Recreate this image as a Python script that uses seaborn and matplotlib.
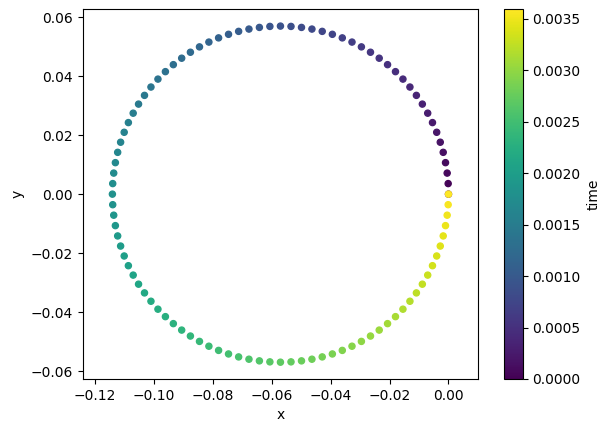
import numpy as np
import pandas as pd
import matplotlib
matplotlib.use("Agg")
import matplotlib.pyplot as plt
import seaborn as sns
from matplotlib.cm import ScalarMappable
from matplotlib.colors import Normalize

x = [0.0, -0.00011, -0.00045, -0.00101, -0.00179, -0.00279, -0.00400, -0.00543, -0.00705, -0.00887,
     -0.01089, -0.01308, -0.01545, -0.01798, -0.02067, -0.02350, -0.02646, -0.02954, -0.03273, -0.03602,
     -0.03939, -0.04283, -0.04632, -0.04986, -0.05342, -0.05700, -0.06058, -0.06414, -0.06768, -0.07118,
     -0.07461, -0.07798, -0.08127, -0.08446, -0.08754, -0.09050, -0.09333, -0.09602, -0.09855, -0.10092,
     -0.10311, -0.10513, -0.10695, -0.10858, -0.11000, -0.11121, -0.11221, -0.11299, -0.11355, -0.11389,
     -0.11400,
     -0.11389, -0.11355, -0.11299, -0.11221, -0.11121, -0.11000, -0.10858, -0.10695, -0.10513, -0.10311,
     -0.10092, -0.09855, -0.09602, -0.09333, -0.09050, -0.08754, -0.08446, -0.08127, -0.07798, -0.07461,
     -0.07118, -0.06768, -0.06414, -0.06058, -0.05700, -0.05342, -0.04986, -0.04632, -0.04283, -0.03939,
     -0.03602, -0.03273, -0.02954, -0.02646, -0.02350, -0.02067, -0.01798, -0.01545, -0.01308, -0.01089,
     -0.00887, -0.00705, -0.00543, -0.00400, -0.00279, -0.00179, -0.00101, -0.00045, -0.00011, 0.0]

y = [0.0, 0.00358, 0.00714, 0.01068, 0.01418, 0.01761, 0.02098, 0.02427, 0.02746, 0.03054,
     0.03350, 0.03633, 0.03902, 0.04155, 0.04392, 0.04611, 0.04813, 0.04995, 0.05158, 0.05300,
     0.05421, 0.05521, 0.05599, 0.05655, 0.05689, 0.05700,
     0.05689, 0.05655, 0.05599, 0.05521, 0.05421, 0.05300, 0.05158, 0.04995, 0.04813, 0.04611,
     0.04392, 0.04155, 0.03902, 0.03633, 0.03350, 0.03054, 0.02746, 0.02427, 0.02098, 0.01761,
     0.01418, 0.01068, 0.00714, 0.00358, 0.0,
     -0.00358, -0.00714, -0.01068, -0.01418, -0.01761, -0.02098, -0.02427, -0.02746, -0.03054,
     -0.03350, -0.03633, -0.03902, -0.04155, -0.04392, -0.04611, -0.04813, -0.04995, -0.05158, -0.05300,
     -0.05421, -0.05521, -0.05599, -0.05655, -0.05689, -0.05700,
     -0.05689, -0.05655, -0.05599, -0.05521, -0.05421, -0.05300, -0.05158, -0.04995, -0.04813, -0.04611,
     -0.04392, -0.04155, -0.03902, -0.03633, -0.03350, -0.03054, -0.02746, -0.02427, -0.02098, -0.01761,
     -0.01418, -0.01068, -0.00714, -0.00358, 0.0]

# time in units of 1e-7 s
time_e7 = [0, 359, 718, 1077, 1436, 1795, 2154, 2513, 2872, 3231,
           3590, 3949, 4308, 4667, 5026, 5385, 5744, 6103, 6462, 6821,
           7180, 7539, 7898, 8257, 8616, 8975, 9334, 9693, 10052, 10411,
           10770, 11129, 11488, 11847, 12206, 12565, 12924, 13283, 13642, 14001,
           14360, 14719, 15078, 15437, 15796, 16155, 16514, 16873, 17232, 17591,
           17950, 18309, 18668, 19027, 19386, 19745, 20104, 20463, 20822, 21181,
           21540, 21899, 22258, 22617, 22976, 23335, 23694, 24053, 24412, 24771,
           25130, 25489, 25848, 26207, 26566, 26925, 27284, 27643, 28002, 28361,
           28720, 29079, 29438, 29797, 30156, 30515, 30874, 31233, 31592, 31951,
           32310, 32669, 33028, 33387, 33746, 34105, 34464, 34823, 35182, 35541,
           35900]

df = pd.DataFrame({"x": x, "y": y, "time": np.array(time_e7) * 1e-7})

fig = plt.figure(figsize=(6.09, 4.32), dpi=100)
ax = fig.add_axes([0.1355, 0.1227, 0.650, 0.8558])
cax = fig.add_axes([0.8276, 0.1227, 0.0307, 0.8558])

norm = Normalize(vmin=df["time"].min(), vmax=df["time"].max())
sns.scatterplot(data=df, x="x", y="y", hue="time", hue_norm=norm, palette="viridis",
                s=20, linewidth=0.9, edgecolor="face", legend=False, ax=ax)
ax.set_aspect("equal", adjustable="datalim")
ax.set_xlabel("x")
ax.set_ylabel("y")

sm = ScalarMappable(norm=norm, cmap="viridis")
cb = fig.colorbar(sm, cax=cax)
cb.set_label("time")

fig.savefig("out.png", dpi=100)
